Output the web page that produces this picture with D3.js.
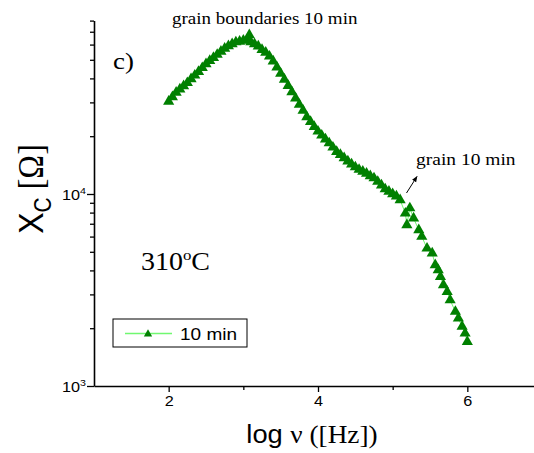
<!DOCTYPE html>
<html>
<head>
<meta charset="utf-8">
<script src="https://cdn.jsdelivr.net/npm/d3@7"></script>
<style>
  body { margin: 0; background: #fff; }
  svg { display: block; }
</style>
</head>
<body>
<div id="chart"></div>
<script>
// values: log of frequency and the reactance Xc (ohm)
var logFreq = [2.00, 2.05, 2.10, 2.15, 2.20, 2.25, 2.30, 2.35, 2.40, 2.45,
  2.50, 2.55, 2.60, 2.65, 2.70, 2.75, 2.80, 2.85, 2.90, 2.95,
  3.00, 3.05, 3.08, 3.10, 3.15, 3.20, 3.25, 3.30, 3.35, 3.40,
  3.45, 3.50, 3.55, 3.60, 3.65, 3.70, 3.75, 3.80, 3.85, 3.90,
  3.95, 4.00, 4.05, 4.10, 4.15, 4.20, 4.25, 4.30, 4.35, 4.40,
  4.45, 4.50, 4.55, 4.60, 4.65, 4.70, 4.75, 4.80, 4.85, 4.90,
  4.95, 5.00, 5.05, 5.10, 5.17, 5.19, 5.23, 5.28, 5.35, 5.39,
  5.46, 5.53, 5.57, 5.61, 5.64, 5.68, 5.73, 5.77, 5.84, 5.88,
  5.93, 5.97, 6.00];
var xcOhm = [30300, 32000, 33800, 35100, 36500, 37900, 39700, 41500, 43300, 45400,
  47500, 49400, 51200, 53200, 55200, 57300, 59000, 60400, 61800, 62300,
  63000, 63400, 67300, 61900, 60400, 58800, 56400, 54600, 52100, 49100,
  45700, 42400, 39500, 36600, 34000, 31500, 29200, 27200, 25200, 23800,
  22400, 21200, 20200, 19300, 18400, 17500, 16600, 16000, 15400, 14800,
  14300, 13800, 13400, 13100, 12800, 12400, 12100, 11600, 11100, 10600,
  10300, 10000, 9730, 9310, 7930, 6900, 8440, 7470, 6500, 6000,
  5210, 4910, 4270, 4020, 3710, 3360, 3100, 2800, 2440, 2250,
  2040, 1880, 1700];

var xMajorTicks = [2, 4, 6];
var xMinorTicks = [3, 5];
var yMajorTicks = [1e3, 1e4];
var yMinorTicks = [2e3, 3e3, 4e3, 5e3, 6e3, 7e3, 8e3, 9e3, 2e4, 3e4, 4e4, 5e4, 6e4, 7e4, 8e4];
var seriesName = "10 min";

var width = 534, height = 453;
var stretch = 1.12; // the source picture is a bit wider than tall

var svg = d3.select("#chart").append("svg")
  .attr("width", width)
  .attr("height", height);

var x = d3.scaleLinear().domain([1, 7]).range([94, 542]);
var y = d3.scaleLog().domain([1e3, 8e4]).range([386, 20.6]);

var markColor = "#008000";
var lineColor = "#70f870";

// axes
var xAxis = svg.append("g")
  .attr("transform", "translate(0,386)")
  .call(d3.axisBottom(x).tickValues(xMajorTicks).tickFormat(d3.format("d")).tickSize(6).tickSizeOuter(0));
var xMinor = svg.append("g")
  .attr("transform", "translate(0,386)")
  .call(d3.axisBottom(x).tickValues(xMinorTicks).tickFormat("").tickSize(4).tickSizeOuter(0));

var yAxis = svg.append("g")
  .attr("transform", "translate(94,0)")
  .call(d3.axisLeft(y).tickValues(yMajorTicks).tickSize(7).tickSizeOuter(0).tickFormat(""));
var yMinor = svg.append("g")
  .attr("transform", "translate(94,0)")
  .call(d3.axisLeft(y).tickValues(yMinorTicks).tickSize(4).tickSizeOuter(0).tickFormat(""));

svg.selectAll(".domain").attr("stroke", "#000").attr("stroke-width", 1.6);
svg.selectAll(".tick line").attr("stroke", "#000").attr("stroke-width", 1.3);
xMinor.select(".domain").remove();
yMinor.select(".domain").remove();

xAxis.selectAll(".tick text")
  .attr("font-family", "Liberation Sans, Arial, sans-serif")
  .attr("font-size", 14.5)
  .attr("fill", "#000")
  .attr("y", 10)
  .attr("transform", "scale(" + stretch + ",1)");

// y tick labels as 10 with a raised exponent
yMajorTicks.forEach(function(v) {
  var t = svg.append("text")
    .attr("transform", "translate(86," + (y(v) + 6) + ") scale(" + stretch + ",1)")
    .attr("text-anchor", "end")
    .attr("font-family", "Liberation Sans, Arial, sans-serif")
    .attr("font-size", 14.5);
  t.append("tspan").text("10");
  t.append("tspan").attr("dy", -6).attr("font-size", 9.5).text(Math.round(Math.log10(v)));
});

// connecting line then the triangles
var line = d3.line()
  .x(function(d, i) { return x(logFreq[i]); })
  .y(function(d, i) { return y(xcOhm[i]); });

svg.append("path")
  .datum(xcOhm)
  .attr("d", line)
  .attr("fill", "none")
  .attr("stroke", lineColor)
  .attr("stroke-width", 1);

var tri = d3.symbol().type(d3.symbolTriangle).size(54);
svg.append("g").selectAll("path")
  .data(xcOhm)
  .enter()
  .append("path")
  .attr("d", tri)
  .attr("transform", function(d, i) { return "translate(" + x(logFreq[i]) + "," + y(d) + ")"; })
  .attr("fill", markColor);

// axis titles
var xTitle = svg.append("text")
  .attr("transform", "translate(312,443) scale(1.05,1)")
  .attr("text-anchor", "middle")
  .attr("font-size", 26)
  .attr("fill", "#000");
xTitle.append("tspan").attr("font-family", "Liberation Sans, Arial, sans-serif").text("log ");
xTitle.append("tspan").attr("font-family", "Liberation Serif, Times New Roman, serif").text("\u03bd ([Hz])");

var yTitle = svg.append("text")
  .attr("transform", "translate(43,189) rotate(-90) scale(1,1.1)")
  .attr("text-anchor", "middle")
  .attr("font-size", 32)
  .attr("fill", "#000");
yTitle.append("tspan").attr("font-family", "Liberation Sans, Arial, sans-serif").text("X");
yTitle.append("tspan").attr("font-family", "Liberation Sans, Arial, sans-serif")
  .attr("font-size", 21).attr("dy", 7).text("C");
yTitle.append("tspan").attr("font-family", "Liberation Serif, Times New Roman, serif")
  .attr("dy", -7).text(" [\u03a9]");

// annotations
function note(px, py, size, txt) {
  return svg.append("text")
    .attr("transform", "translate(" + px + "," + py + ") scale(" + stretch + ",1)")
    .attr("font-family", "Liberation Serif, Times New Roman, serif")
    .attr("font-size", size)
    .attr("fill", "#000")
    .text(txt);
}
note(172, 24, 17, "grain boundaries 10 min");
note(113, 69, 24, "c)");
note(416, 165, 17.4, "grain 10 min");

var tempLabel = svg.append("text")
  .attr("transform", "translate(141,270) scale(" + stretch + ",1)")
  .attr("font-family", "Liberation Serif, Times New Roman, serif")
  .attr("font-size", 25)
  .attr("fill", "#000");
tempLabel.append("tspan").text("310");
tempLabel.append("tspan").attr("dy", -10).attr("font-size", 15).text("o");
tempLabel.append("tspan").attr("dy", 10).text("C");

// small arrow pointing at the grain part
svg.append("defs").append("marker")
  .attr("id", "head")
  .attr("viewBox", "0 0 10 10")
  .attr("refX", 9).attr("refY", 5)
  .attr("markerWidth", 6).attr("markerHeight", 6)
  .attr("orient", "auto")
  .append("path")
  .attr("d", "M0,1 L10,5 L0,9 Z")
  .attr("fill", "#000");
svg.append("line")
  .attr("x1", 406.5).attr("y1", 193)
  .attr("x2", 417).attr("y2", 176.5)
  .attr("stroke", "#000")
  .attr("stroke-width", 1)
  .attr("marker-end", "url(#head)");

// legend
var legend = svg.append("g").attr("transform", "translate(113,319)");
legend.append("rect")
  .attr("width", 134).attr("height", 28)
  .attr("fill", "#fff").attr("stroke", "#000").attr("stroke-width", 1);
legend.append("line")
  .attr("x1", 12).attr("x2", 59).attr("y1", 14.5).attr("y2", 14.5)
  .attr("stroke", lineColor).attr("stroke-width", 1.3);
legend.append("path")
  .attr("d", d3.symbol().type(d3.symbolTriangle).size(30))
  .attr("transform", "translate(35,15)")
  .attr("fill", markColor);
legend.append("text")
  .attr("transform", "translate(67,20.5) scale(" + stretch + ",1)")
  .attr("font-family", "Liberation Sans, Arial, sans-serif")
  .attr("font-size", 17)
  .text(seriesName);
</script>
</body>
</html>
